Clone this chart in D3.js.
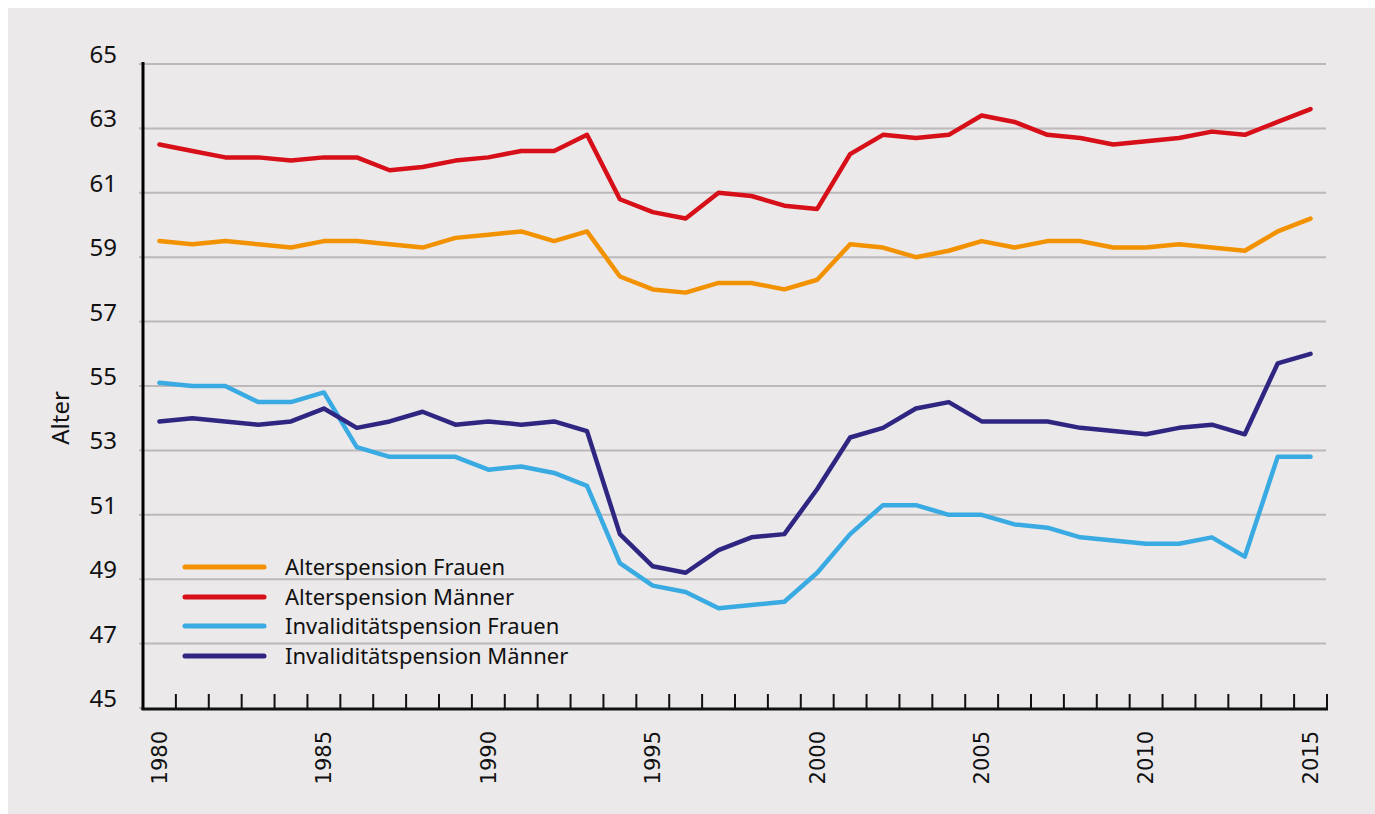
<!DOCTYPE html>
<html>
<head>
<meta charset="utf-8">
<script src="https://cdn.jsdelivr.net/npm/d3@7/dist/d3.min.js"></script>
<style>
html,body{margin:0;padding:0;background:#fff;}
svg{display:block;}
</style>
</head>
<body>
<svg id="chart" width="1375" height="814"></svg>
<script>
const years = d3.range(1980, 2016);
const yTicks = [45,47,49,51,53,55,57,59,61,63,65];
const xLabelYears = [1980,1985,1990,1995,2000,2005,2010,2015];
const seriesNames = ["Alterspension Frauen","Alterspension Männer","Invaliditätspension Frauen","Invaliditätspension Männer"];
const seriesColors = ["#f39200","#d60f19","#39abe2","#2f2682"];

const alterFrauen = [59.5,59.4,59.5,59.4,59.3,59.5,59.5,59.4,59.3,59.6,59.7,59.8,59.5,59.8,58.4,58.0,57.9,58.2,58.2,58.0,58.3,59.4,59.3,59.0,59.2,59.5,59.3,59.5,59.5,59.3,59.3,59.4,59.3,59.2,59.8,60.2];
const alterMaenner = [62.5,62.3,62.1,62.1,62.0,62.1,62.1,61.7,61.8,62.0,62.1,62.3,62.3,62.8,60.8,60.4,60.2,61.0,60.9,60.6,60.5,62.2,62.8,62.7,62.8,63.4,63.2,62.8,62.7,62.5,62.6,62.7,62.9,62.8,63.2,63.6];
const invFrauen = [55.1,55.0,55.0,54.5,54.5,54.8,53.1,52.8,52.8,52.8,52.4,52.5,52.3,51.9,49.5,48.8,48.6,48.1,48.2,48.3,49.2,50.4,51.3,51.3,51.0,51.0,50.7,50.6,50.3,50.2,50.1,50.1,50.3,49.7,52.8,52.8];
const invMaenner = [53.9,54.0,53.9,53.8,53.9,54.3,53.7,53.9,54.2,53.8,53.9,53.8,53.9,53.6,50.4,49.4,49.2,49.9,50.3,50.4,51.8,53.4,53.7,54.3,54.5,53.9,53.9,53.9,53.7,53.6,53.5,53.7,53.8,53.5,55.7,56.0];
const seriesValues = [alterFrauen, alterMaenner, invFrauen, invMaenner];

const svg = d3.select("#chart");
const FONT = "'Noto Sans', sans-serif";

// background panel
svg.append("rect").attr("x",8).attr("y",8).attr("width",1367).attr("height",806).attr("fill","#ebe9ea");

const x = d3.scaleBand().domain(years).range([143,1327]).padding(0);
const y = d3.scaleLinear().domain([45,65]).range([708,64]);
const cx = d => x(d) + x.bandwidth()/2;

// gridlines
svg.append("g").selectAll("line").data(yTicks.filter(v=>v>45)).join("line")
  .attr("x1",143).attr("x2",1326).attr("y1",d=>y(d)).attr("y2",d=>y(d))
  .attr("stroke","#bdb8b9").attr("stroke-width",2);

// y tick marks
svg.append("g").selectAll("line").data(yTicks).join("line")
  .attr("x1",139).attr("x2",143).attr("y1",d=>y(d)).attr("y2",d=>y(d))
  .attr("stroke","#bdb8b9").attr("stroke-width",2);

// y labels
svg.append("g").selectAll("text").data(yTicks).join("text")
  .attr("x",117).attr("y",d=>y(d)-1).attr("text-anchor","end")
  .attr("font-family",FONT).attr("font-size",24).attr("fill","#111")
  .text(d=>d);

// y title
svg.append("text").attr("transform","translate(69,418) rotate(-90)")
  .attr("text-anchor","middle").attr("font-family",FONT).attr("font-size",24).attr("fill","#111")
  .text("Alter");

// x ticks at band boundaries
svg.append("g").selectAll("line").data(years).join("line")
  .attr("x1",d=>x(d)+x.bandwidth()).attr("x2",d=>x(d)+x.bandwidth())
  .attr("y1",694).attr("y2",709)
  .attr("stroke","#111").attr("stroke-width",2);

// axes lines
svg.append("line").attr("x1",143).attr("x2",143).attr("y1",62).attr("y2",710)
  .attr("stroke","#000").attr("stroke-width",3);
svg.append("line").attr("x1",141.5).attr("x2",1328).attr("y1",709).attr("y2",709)
  .attr("stroke","#111").attr("stroke-width",3);

// x labels
svg.append("g").selectAll("text").data(xLabelYears).join("text")
  .attr("transform",d=>`translate(${cx(d)},731) rotate(-90)`)
  .attr("text-anchor","end").attr("dy","0.35em")
  .attr("font-family","'DejaVu Sans', sans-serif").attr("font-size",21).attr("fill","#111")
  .text(d=>d);

// lines
const line = d3.line().x((d,i)=>cx(years[i])).y(d=>y(d));
svg.append("g").selectAll("path").data(seriesValues).join("path")
  .attr("d",d=>line(d)).attr("fill","none")
  .attr("stroke",(d,i)=>seriesColors[i]).attr("stroke-width",4.5)
  .attr("stroke-linejoin","round").attr("stroke-linecap","round");

// legend
const leg = svg.append("g");
const legY = [567,597,626,656];
seriesNames.forEach((n,i)=>{
  leg.append("line").attr("x1",185).attr("x2",264).attr("y1",legY[i]).attr("y2",legY[i])
    .attr("stroke",seriesColors[i]).attr("stroke-width",5).attr("stroke-linecap","round");
  leg.append("text").attr("x",285).attr("y",legY[i]).attr("dy","0.36em")
    .attr("font-family",FONT).attr("font-size",22).attr("fill","#111").text(n);
});
</script>
</body>
</html>
